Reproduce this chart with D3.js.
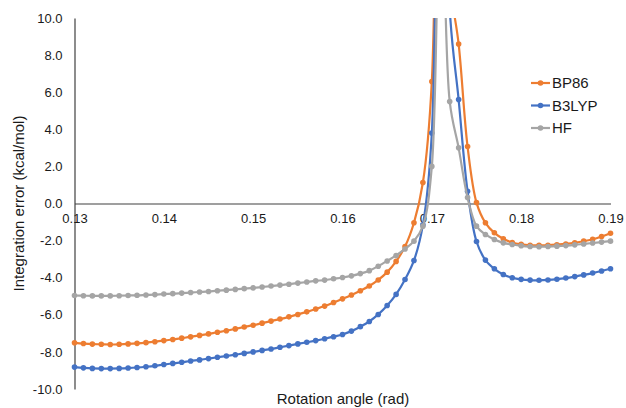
<!DOCTYPE html>
<html><head><meta charset="utf-8">
<script src="https://cdn.jsdelivr.net/npm/d3@7"></script>
<style>body{margin:0;background:#fff}svg{display:block}text{font-family:"Liberation Sans",Arial,sans-serif}</style>
</head><body>
<svg id="c" width="626" height="408"></svg>
<script>
const xValues = [0.130,0.131,0.132,0.133,0.134,0.135,0.136,0.137,0.138,0.139,
0.140,0.141,0.142,0.143,0.144,0.145,0.146,0.147,0.148,0.149,
0.150,0.151,0.152,0.153,0.154,0.155,0.156,0.157,0.158,0.159,
0.160,0.161,0.162,0.163,0.164,0.165,0.166,0.167,0.168,0.169,
0.170,0.171,0.172,0.173,0.174,0.175,0.176,0.177,0.178,0.179,
0.180,0.181,0.182,0.183,0.184,0.185,0.186,0.187,0.188,0.189,0.190];

const bp86 = [-7.51,-7.55,-7.58,-7.59,-7.60,-7.59,-7.57,-7.54,-7.50,-7.45,
-7.39,-7.33,-7.26,-7.19,-7.11,-7.03,-6.94,-6.86,-6.76,-6.66,
-6.56,-6.45,-6.34,-6.23,-6.11,-5.98,-5.84,-5.69,-5.53,-5.34,
-5.14,-4.93,-4.70,-4.45,-4.12,-3.70,-3.12,-2.32,-1.04,1.13,
6.58,35.0,12.2,8.6,3.07,0.05,-1.04,-1.58,-1.90,-2.10,
-2.20,-2.25,-2.26,-2.25,-2.22,-2.18,-2.12,-2.03,-1.93,-1.78,-1.60];

const b3lyp = [-8.82,-8.86,-8.89,-8.90,-8.90,-8.89,-8.87,-8.84,-8.80,-8.75,
-8.68,-8.62,-8.56,-8.49,-8.43,-8.36,-8.29,-8.22,-8.15,-8.08,
-8.00,-7.92,-7.84,-7.75,-7.66,-7.57,-7.48,-7.39,-7.29,-7.18,
-7.06,-6.88,-6.64,-6.36,-5.98,-5.50,-4.90,-4.10,-3.07,-1.15,
3.8,40.0,10.5,5.6,0.66,-2.05,-3.05,-3.52,-3.83,-4.00,
-4.09,-4.13,-4.14,-4.12,-4.08,-4.02,-3.94,-3.85,-3.75,-3.64,-3.52];

const hf = [-4.96,-4.97,-4.98,-4.98,-4.98,-4.97,-4.96,-4.95,-4.93,-4.91,
-4.88,-4.86,-4.83,-4.80,-4.77,-4.74,-4.70,-4.67,-4.63,-4.59,
-4.55,-4.50,-4.45,-4.40,-4.35,-4.29,-4.23,-4.17,-4.13,-4.06,
-3.99,-3.90,-3.78,-3.62,-3.38,-3.10,-2.80,-2.45,-2.03,-1.22,
2.0,20.0,5.5,3.0,0.32,-1.22,-1.67,-1.94,-2.12,-2.21,
-2.28,-2.32,-2.33,-2.32,-2.30,-2.27,-2.23,-2.18,-2.13,-2.08,-2.03];

const seriesNames = ["BP86","B3LYP","HF"];
const seriesColors = ["#ED7D31","#4472C4","#A5A5A5"];
const xTicks = [0.13,0.14,0.15,0.16,0.17,0.18,0.19];
const yTicks = [10,8,6,4,2,0,-2,-4,-6,-8,-10];

const svg = d3.select("#c");
const x = d3.scaleLinear().domain([0.13,0.19]).range([74.5,610.5]);
const y = d3.scaleLinear().domain([-10,10]).range([389,18]);

svg.append("defs").append("clipPath").attr("id","clip")
  .append("rect").attr("x",60).attr("y",18).attr("width",566).attr("height",371);

// y axis
const yAxis = d3.axisLeft(y).tickValues(yTicks).tickSize(0).tickPadding(12).tickFormat(v=>v.toFixed(1));
const gy = svg.append("g").attr("transform","translate(74.5,0)").call(yAxis);
gy.select(".domain").attr("stroke","#404040").attr("stroke-width",1.2);
gy.selectAll("text").attr("font-size",13).attr("fill","#1a1a1a").attr("font-family","Liberation Sans, Arial, sans-serif");

// x axis at zero
const xAxis = d3.axisBottom(x).tickValues(xTicks).tickSize(0).tickPadding(10).tickFormat(v=>v.toFixed(2));
const gx = svg.append("g").attr("transform",`translate(0,${y(0)})`).call(xAxis);
gx.select(".domain").attr("stroke","#404040").attr("stroke-width",1.2);
gx.selectAll("text").attr("font-size",13).attr("fill","#1a1a1a").attr("font-family","Liberation Sans, Arial, sans-serif");

// series
const all = [bp86,b3lyp,hf];
const plot = svg.append("g").attr("clip-path","url(#clip)");
const line = d3.line().x((d,i)=>x(xValues[i])).y(d=>y(d)).curve(d3.curveCatmullRom);
all.forEach((vals,k)=>{
  plot.append("path").datum(vals).attr("d",line).attr("fill","none")
    .attr("stroke",seriesColors[k]).attr("stroke-width",2.2);
  plot.selectAll(null).data(vals).enter().append("circle")
    .attr("cx",(d,i)=>x(xValues[i])).attr("cy",d=>y(d)).attr("r",2.8)
    .attr("fill",seriesColors[k]);
});

// axis titles
svg.append("text").attr("transform",`translate(24,${(18+389)/2}) rotate(-90)`)
  .attr("text-anchor","middle").attr("font-size",15).attr("fill","#1a1a1a")
  .text("Integration error (kcal/mol)");
svg.append("text").attr("x",343).attr("y",404).attr("text-anchor","middle")
  .attr("font-size",15).attr("fill","#1a1a1a").text("Rotation angle (rad)");

// legend
const legY = [83,105.5,128];
seriesNames.forEach((n,k)=>{
  const g = svg.append("g");
  g.append("line").attr("x1",531).attr("x2",550).attr("y1",legY[k]).attr("y2",legY[k])
    .attr("stroke",seriesColors[k]).attr("stroke-width",2.2);
  g.append("circle").attr("cx",540.5).attr("cy",legY[k]).attr("r",2.8).attr("fill",seriesColors[k]);
  g.append("text").attr("x",552).attr("y",legY[k]).attr("dy","0.36em")
    .attr("font-size",15).attr("fill","#1a1a1a").text(n);
});
</script>
</body></html>
